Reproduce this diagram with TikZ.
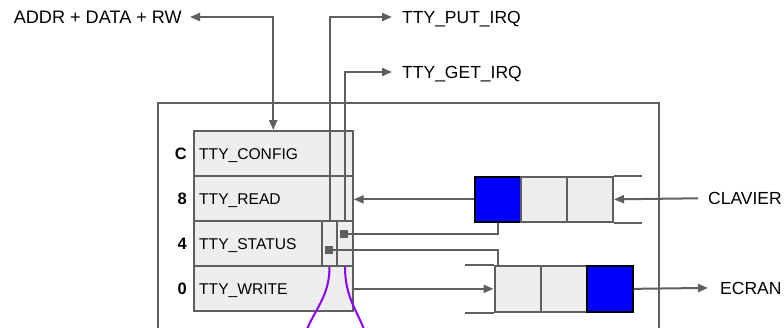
\documentclass[tikz,border=0pt]{standalone}
\usepackage{fontspec}
\setmainfont{Liberation Sans}
\usetikzlibrary{arrows.meta}
\definecolor{ln}{HTML}{5F5F5F}
\definecolor{cellfill}{HTML}{EEEEEE}
\definecolor{qblue}{HTML}{0000FF}
\definecolor{irqc}{RGB}{140,0,255}
\begin{document}
\begin{tikzpicture}[x=1pt,y=-1pt,
  wire/.style={draw=ln,line width=2pt},
  arr/.style={wire,-{Triangle[length=10pt,width=8pt]}},
  reg/.style={draw=ln,fill=cellfill,line width=2pt,anchor=north west,
    minimum width=159pt,minimum height=45pt,text width=148pt,align=left,
    inner xsep=5.5pt,inner ysep=0pt,font=\fontsize{15.6}{16}\selectfont,
    text height=11.2pt,text depth=0pt},
  subbox/.style={draw=ln,fill=cellfill,line width=2pt,anchor=north west,
    minimum height=45pt,inner sep=0pt},
  cell/.style={draw=ln,fill=cellfill,line width=2pt,anchor=north west,
    minimum width=46pt,minimum height=45.3pt,inner sep=0pt},
  bluecell/.style={cell,fill=qblue,draw=black},
  sq/.style={fill=ln,minimum size=8pt,inner sep=0pt},
  digit/.style={anchor=east,inner sep=0pt,font=\fontsize{16.5}{17}\selectfont\bfseries,
    text height=11.8pt,text depth=0pt},
  lbl/.style={inner ysep=0pt,font=\fontsize{17.5}{18}\selectfont,
    text height=12.5pt,text depth=0pt},
  irqline/.style={draw=irqc,line width=2pt}
]
\useasboundingbox[fill=white] (0,0) rectangle (784,327);

% outer box
\draw[wire] (158.3,340) |- (659.3,103.3) -- (659.3,340);

% registers
\node[reg] (cfg) at (192.7,130) {TTY\_CONFIG};
\node[reg] (rd) at (192.7,175) {TTY\_READ};
\node[reg] (st) at (192.7,220) {TTY\_STATUS};
\node[reg] (wr) at (192.7,265) {TTY\_WRITE};
\node[subbox,minimum width=15pt] (s1) at (321,220) {};
\node[subbox,minimum width=16pt] (s2) at (336,220) {};

\node[digit] (dc) at ([xshift=-5.7pt]cfg.west) {C};
\node[digit] (d8) at ([xshift=-5.7pt]rd.west) {8};
\node[digit] (d4) at ([xshift=-5.7pt]st.west) {4};
\node[digit] (d0) at ([xshift=-5.7pt]wr.west) {0};

% FIFOs
\node[bluecell] (r1) at (474,175.7) {};
\node[cell] (r2) at (520,175.7) {};
\node[cell] (r3) at (566,175.7) {};
\draw[wire] (r3.north east) -- ++(28,0);
\draw[wire] (r3.south east) -- ++(28,0);

\node[cell] (w1) at (493.5,265.2) {};
\node[cell] (w2) at (539.5,265.2) {};
\node[bluecell] (w3) at (585.5,265.2) {};
\draw[wire] (w1.north west) -- ++(-28.5,0);
\draw[wire] (w1.south west) -- ++(-28.5,0);

% labels
\node[lbl,anchor=east,inner xsep=8pt,font=\fontsize{18.1}{19}\selectfont,text height=13pt] (addr) at (190,17) {ADDR + DATA + RW};
\node[lbl,anchor=west,inner xsep=10pt] (put) at (392,17) {TTY\_PUT\_IRQ};
\node[lbl,anchor=west,inner xsep=10pt] (get) at (392,72) {TTY\_GET\_IRQ};
\node[lbl,anchor=west,inner xsep=10pt] (clav) at (698,198.3) {CLAVIER};
\node[lbl,anchor=west,inner xsep=12pt] (ecran) at (708,287.9) {ECRAN};

% connectors
\draw[wire,{Triangle[length=10pt,width=8pt]}-{Triangle[length=10pt,width=8pt]}] (addr.east) -| (cfg.north);
\draw[arr] (s1.north) |- (put.west);
\draw[arr] (s2.north) |- (get.west);
\draw[arr] (clav.west) -- (r3.east);
\draw[arr] (r1.west) -- (r1.west -| rd.east);
\draw[arr] (wr.east |- w1.west) -- (w1.west);
\draw[arr] (w3.east) -- (ecran.west);

\coordinate (p1) at (343.7,234);
\coordinate (p2) at (328.7,250);
\draw[wire] (p1) -| (r1.south);
\draw[wire] (p2) -| ([xshift=4.8pt]w1.north west);
\node[sq] (q1) at (p1) {};
\node[sq] (q2) at (p2) {};

% IRQ lines
\draw[irqline] (s1.south) .. controls +(0,30) and +(8,-22) .. (306,332);
\draw[irqline] (s2.south) .. controls +(0,30) and +(-8,-22) .. (365,332);
\end{tikzpicture}
\end{document}
